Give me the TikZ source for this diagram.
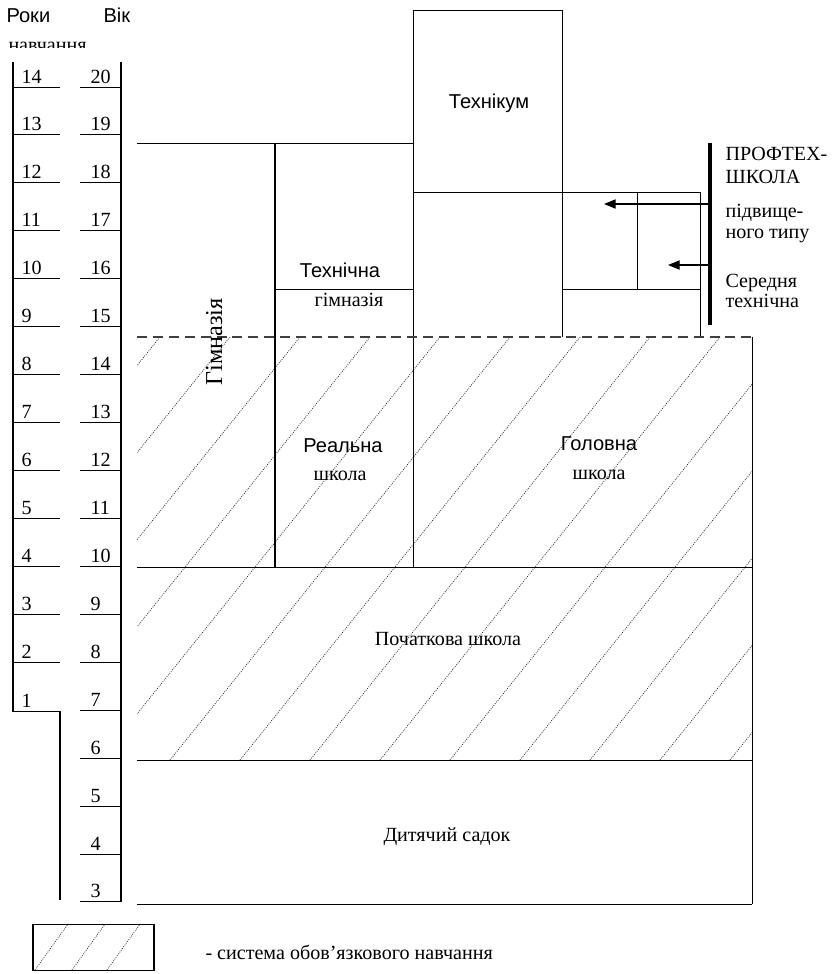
\documentclass[tikz,border=0pt]{standalone}
\usepackage{fontspec}
\setmainfont{Liberation Serif}
\setsansfont{Liberation Sans}
\usetikzlibrary{arrows.meta}

\begin{document}
\begin{tikzpicture}[
  x=0.021cm, y=-0.021cm,
  line width=0.6pt,
  mezha/.style={dash pattern=on 6pt off 3.5pt, line width=0.7pt, black!75},
  shtrykh/.style={dash pattern=on 0.5pt off 0.8pt, line width=0.5pt, black!80},
  tovsta/.style={line width=2.4pt},
  strilka/.style={-{Triangle[length=7pt,width=5.5pt]}, line width=0.8pt},
  serif/.style={font=\fontsize{12}{14}\selectfont, inner sep=0pt},
  sans/.style={font=\sffamily\fontsize{12}{14}\selectfont, inner sep=0pt},
  num/.style={serif, anchor=base west}
]
\useasboundingbox (0,0) rectangle (835,974);

% Шкала: роки навчання і вік
\node[sans, anchor=base west] (roky) at (6,22) {Роки};
\node[sans, anchor=base west] (vik)  at (103,22) {Вік};
\begin{scope}
  \clip (0,30) rectangle (140,47);
  \node[serif, anchor=base west] (navch) at (8,51) {навчання};
\end{scope}

\draw (13,62) -- (13,711) -- (60,711) -- (60,900);
\draw (121,62) -- (121,902);
\foreach \a in {3,...,20}{
  \pgfmathsetmacro{\yy}{87+(20-\a)*47.94}
  \draw (80,\yy) -- (121,\yy);
  \node[num] (vik\a) at (90,\yy-4) {\a};
}
\foreach \r in {2,...,14}{
  \pgfmathsetmacro{\yy}{87+(14-\r)*47.94}
  \draw (13,\yy) -- (60,\yy);
  \node[num] (rik\r) at (21,\yy-4) {\r};
}
\node[num] (rik1) at (21,707) {1};

% Штриховка: обов'язкове навчання
\begin{scope}
  \clip (137,337) rectangle (752,760);
  \foreach \k in {-1,...,12}
    \draw[shtrykh] (230+70*\k,337) -- (230+70*\k-340,760);
\end{scope}

% Межі шкіл
\draw (137,143) -- (413,143);
\draw (275,143) -- (275,567);
\draw (275,289) -- (413,289);
\draw (413,10) -- (413,567);
\draw (413,10) -- (562,10) -- (562,337);
\draw (413,192) -- (700,192) -- (700,337);
\draw (637,192) -- (637,289);
\draw (562,289) -- (700,289);
\draw[mezha] (137,337) -- (752,337);
\draw (752,337) -- (752,904);
\draw (137,567) -- (752,567);
\draw (137,760) -- (752,760);
\draw (137,904) -- (752,904);

% Назви шкіл
\node[sans, anchor=base]  (tekhnikum)  at (489,108) {Технікум};
\node[sans, anchor=base]  (tekhnichna) at (340,277) {Технічна};
\node[serif, anchor=base] (gimnaziya1) at (349,306) {гімназія};
\node[serif, anchor=base, rotate=90, font=\fontsize{14.5}{16}\selectfont]
                          (gimnaziya)  at (222,342) {Гімназія};
\node[sans, anchor=base]  (realna)     at (343,452) {Реальна};
\node[serif, anchor=base] (shkola1)    at (340,480) {школа};
\node[sans, anchor=base]  (holovna)    at (599,450) {Головна};
\node[serif, anchor=base] (shkola2)    at (599,479) {школа};
\node[serif, anchor=base] (pochatkova) at (448,645) {Початкова школа};
\node[serif, anchor=base] (sadok)      at (447,841) {Дитячий садок};

% Профтехшкола
\coordinate (bar-t) at (710,143);
\coordinate (bar-b) at (710,325);
\coordinate (bar-1) at (710,204);
\coordinate (bar-2) at (710,265);
\coordinate (kin-1) at (604,204);
\coordinate (kin-2) at (668,265);
\draw[tovsta] (bar-t) -- (bar-b);
\draw[strilka] (bar-1) -- (kin-1);
\draw[strilka] (bar-2) -- (kin-2);

\node[num] (proftekh)  at (725,160) {ПРОФТЕХ-};
\node[num] (shkolaP)   at (725,183) {ШКОЛА};
\node[num] (pidvyshch) at (725,217) {підвище-};
\node[num] (typu)      at (725,238) {ного типу};
\node[num] (serednia)  at (725,287) {Середня};
\node[num] (tekhn2)    at (725,307) {технічна};

% Умовне позначення
\draw (33,924) rectangle (154,970);
\foreach \x in {35,72,107}
  \draw[shtrykh] (\x,970) -- (\x+33,924);
\node[num] (legenda) at (205,959) {- система обов’язкового навчання};

\end{tikzpicture}
\end{document}
